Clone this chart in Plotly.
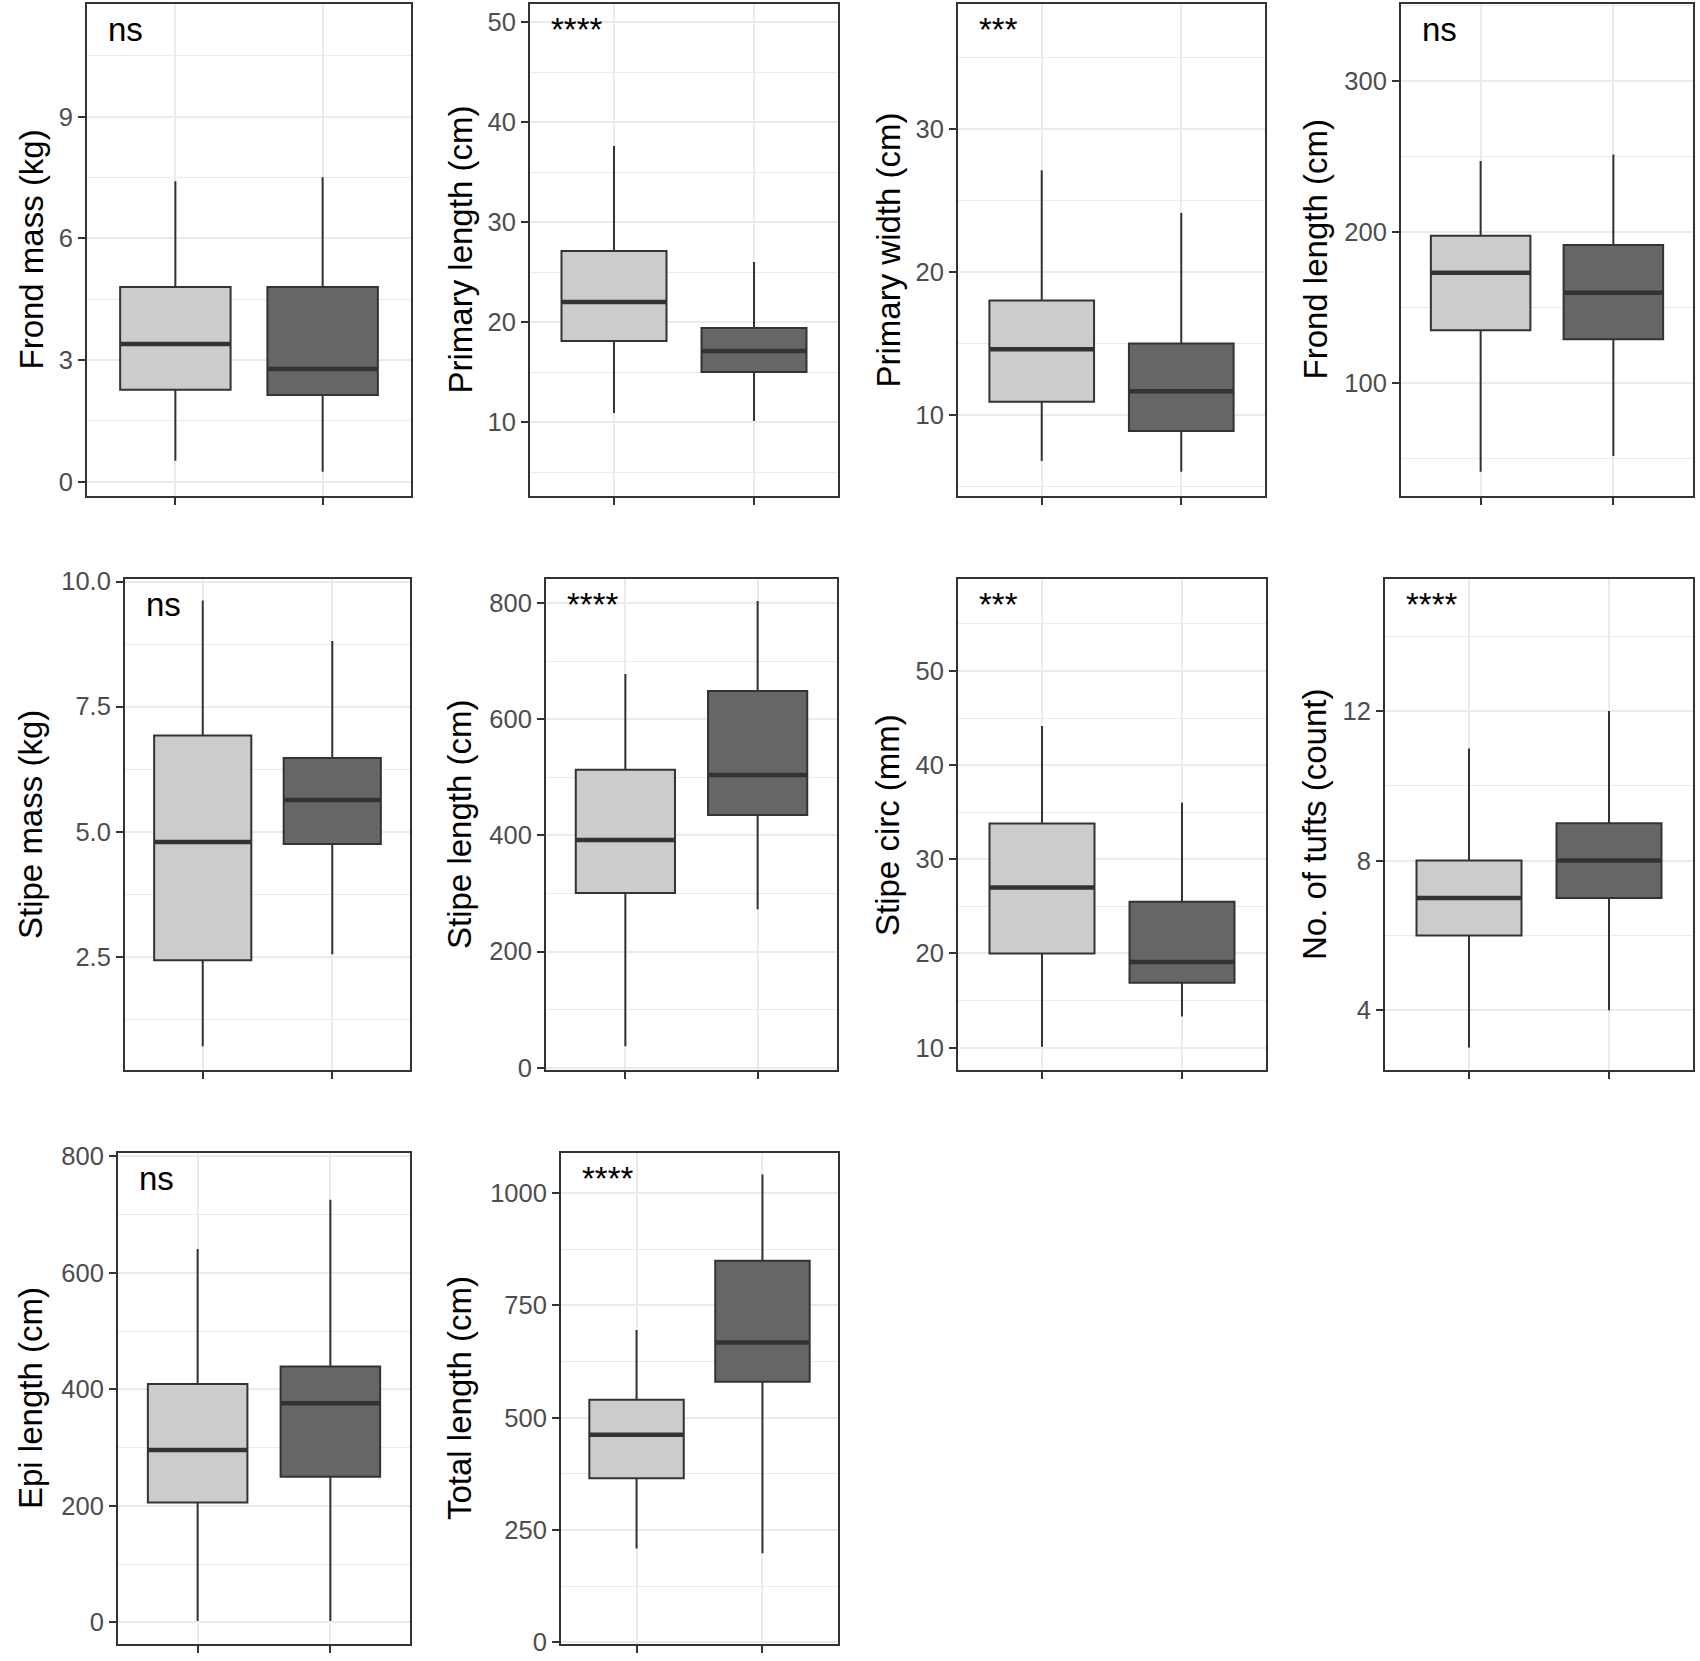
import plotly.graph_objects as go

# y-axis titles and significance labels, panel order left->right, top->bottom
titles = ["Frond mass (kg)", "Primary length (cm)", "Primary width (cm)", "Frond length (cm)",
          "Stipe mass (kg)", "Stipe length (cm)", "Stipe circ (mm)", "No. of tufts (count)",
          "Epi length (cm)", "Total length (cm)"]
signif = ["ns", "****", "***", "ns", "ns", "****", "***", "****", "ns", "****"]

# left (light) group: whisker ends, quartiles, median
light_lo = [0.52, 10.9, 6.8, 41.3, 0.71, 37, 10.1, 3, 2, 209]
light_q1 = [2.27, 18.1, 10.93, 135, 2.43, 301, 20.0, 6, 205.5, 365]
light_med = [3.40, 22.0, 14.6, 173, 4.79, 392, 27.0, 7, 296, 462]
light_q3 = [4.80, 27.1, 18.0, 197.5, 6.92, 513, 33.8, 8, 409, 540]
light_hi = [7.41, 37.6, 27.1, 247, 9.62, 678, 44.15, 11, 641, 695]

# right (dark) group
dark_lo = [0.25, 10.1, 6.04, 51.7, 2.55, 273, 13.3, 4, 2, 198]
dark_q1 = [2.14, 15.0, 8.88, 129, 4.75, 435, 16.9, 7, 250, 580]
dark_med = [2.78, 17.1, 11.67, 159.8, 5.63, 504, 19.1, 8, 376, 667]
dark_q3 = [4.80, 19.4, 15.0, 191.4, 6.47, 649, 25.5, 9, 439, 849]
dark_hi = [7.51, 26.0, 24.1, 251.4, 8.81, 804, 36.0, 12, 725.6, 1041]

# axis settings
y_ranges = [[-0.35, 11.78], [2.6, 51.8], [4.35, 38.7], [25.2, 351], [0.234, 10.05],
            [-4, 841.7], [7.63, 59.76], [2.40, 15.53], [-37.3, 805.8], [-3.8, 1089]]
y_steps = [3, 10, 10, 100, 2.5, 200, 10, 4, 200, 250]
y_formats = ["", "", "", "", ".1f", "", "", "", "", ""]

W, H = 1700, 1661
panel_x = [(87, 411), (530, 838), (958, 1265), (1401, 1693),
           (125, 410), (546, 837), (958, 1266), (1385, 1693),
           (118, 410), (561, 838)]
rows = [(4, 496), (579, 1070), (1153, 1644)]
panel_row = [0, 0, 0, 0, 1, 1, 1, 1, 2, 2]
title_left = [18, 447, 875, 1302]

FONT = "Liberation Sans, Arial, sans-serif"
EDGE = "#333333"
GRID = "#EBEBEB"

fig = go.Figure()
layout = dict(width=W, height=H, margin=dict(l=0, r=0, t=0, b=0, pad=0),
              paper_bgcolor="white", plot_bgcolor="white", showlegend=False,
              font=dict(family=FONT), annotations=[])

for i in range(10):
    n = "" if i == 0 else str(i + 1)
    xa, ya = "x" + n, "y" + n
    groups = [
        (1, light_lo[i], light_q1[i], light_med[i], light_q3[i], light_hi[i], "#CCCCCC"),
        (2, dark_lo[i], dark_q1[i], dark_med[i], dark_q3[i], dark_hi[i], "#666666"),
    ]
    for pos, lo, q1, med, q3, hi, fill in groups:
        fig.add_trace(go.Box(
            x=[pos], lowerfence=[lo], q1=[q1], median=[med], q3=[q3], upperfence=[hi],
            width=0.75, whiskerwidth=0, fillcolor=fill, line=dict(color=EDGE, width=2),
            boxpoints=False, hoverinfo="skip", xaxis=xa, yaxis=ya))
        # ggplot draws the median thicker than the box outline
        fig.add_trace(go.Box(
            x=[pos], lowerfence=[med], q1=[med], median=[med], q3=[med], upperfence=[med],
            width=0.75, whiskerwidth=0, fillcolor="rgba(0,0,0,0)",
            line=dict(color=EDGE, width=4.5),
            boxpoints=False, hoverinfo="skip", xaxis=xa, yaxis=ya))

    l, r = panel_x[i]
    t, b = rows[panel_row[i]]
    layout["xaxis" + n] = dict(
        domain=[l / W, r / W], range=[0.4, 2.6], anchor=ya, automargin=False,
        tickvals=[1, 2], showticklabels=False, ticks="outside", ticklen=7,
        tickwidth=2, tickcolor=EDGE, showgrid=True, gridcolor=GRID, gridwidth=2,
        showline=True, mirror=True, linecolor=EDGE, linewidth=2, zeroline=False)
    layout["yaxis" + n] = dict(
        domain=[(H - b) / H, (H - t) / H], range=y_ranges[i], anchor=xa, automargin=False,
        tick0=0, dtick=y_steps[i], tickformat=y_formats[i],
        ticks="outside", ticklen=7, tickwidth=2, tickcolor=EDGE,
        tickfont=dict(size=25.5, color="#4D4D4D", family=FONT),
        showgrid=True, gridcolor=GRID, gridwidth=2,
        minor=dict(tick0=0, dtick=y_steps[i] / 2, showgrid=True,
                   gridcolor=GRID, gridwidth=1.3, ticks=""),
        showline=True, mirror=True, linecolor=EDGE, linewidth=2, zeroline=False)

    # significance label in the top-left corner
    layout["annotations"].append(dict(
        text=signif[i], x=0, y=1, xref=xa + " domain", yref=ya + " domain",
        xanchor="left", yanchor="top", xshift=19, yshift=-5, showarrow=False,
        font=dict(size=33, color="black", family=FONT)))
    # y-axis title, left-aligned in its grid cell
    layout["annotations"].append(dict(
        text=titles[i], x=title_left[i % 4] / W, y=1 - (t + b) / 2 / H,
        xref="paper", yref="paper", xanchor="left", yanchor="middle",
        xshift=-8, textangle=-90, showarrow=False,
        font=dict(size=33, color="black", family=FONT)))

fig.update_layout(layout)
fig.write_html("out.html", config={"displayModeBar": False},
               post_script="document.body.style.margin='0px';")
